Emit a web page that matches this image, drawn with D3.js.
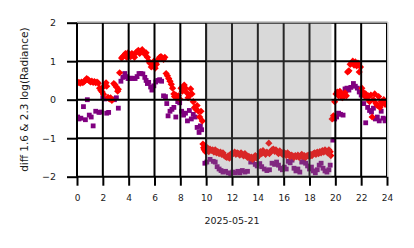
<!doctype html>
<html lang="en">
	<head>
		<meta charset="utf-8">
		<title>diff 1.6 & 2.3 log(Radiance)</title>
		<script src="https://d3js.org/d3.v7.min.js"></script>
		<style>
			body { margin: 0; background: #fff; }
			text { font-family: 'DejaVu Sans', sans-serif; fill: #1a1a1a; }
			.axis path { display: none; }
			.axis line { stroke: #000; stroke-width: 2; }
			.grid line { stroke: #000; stroke-width: 2; }
		</style>
	</head>
	<body>
		<div id="chart"></div>
		<script>
			// red diamonds: [hour, value]
			let redPts = [
				[0.05,0.44],[0.15,0.45],[0.25,0.43],[0.35,0.46],[0.45,0.44],[0.55,0.47],[0.65,0.5],[0.75,0.55],
				[0.85,0.52],[0.95,0.49],[1.05,0.46],[1.15,0.48],[1.25,0.45],[1.35,0.47],[1.45,0.44],[1.55,0.46],
				[1.65,0.43],[1.75,0.3],[1.85,0.24],[1.95,0.2],[2.0,0.32],[2.05,0.14],[2.15,0.38],[2.25,0.44],
				[2.3,0.35],[2.4,0.06],[2.5,0.02],[2.6,0.05],[2.7,-0.02],[2.85,0.42],[2.95,0.38],[3.05,0.33],
				[3.15,0.22],[3.2,0.27],[3.3,0.7],[3.45,1.08],[3.55,1.12],[3.65,1.15],[3.75,1.2],[3.85,1.1],
				[3.95,1.22],[4.05,1.18],[4.15,1.12],[4.25,1.2],[4.35,1.15],[4.45,1.1],[4.55,1.22],[4.65,1.25],
				[4.75,1.28],[4.85,1.2],[4.95,1.26],[5.05,1.3],[5.15,1.25],[5.25,1.18],[5.35,1.22],[5.45,1.1],
				[5.55,1.0],[5.65,0.95],[5.75,0.85],[5.85,0.9],[5.95,1.0],[6.05,0.82],[6.15,0.92],[6.3,1.05],
				[6.4,1.1],[6.5,1.12],[6.6,1.08],[6.7,1.05],[6.8,1.1],[6.9,0.68],[7.0,0.62],[7.1,0.55],
				[7.2,0.48],[7.3,0.4],[7.4,0.3],[7.5,0.15],[7.55,0.08],[7.65,0.12],[7.75,0.05],[7.85,0.1],
				[7.95,0.02],[8.05,0.3],[8.15,0.22],[8.3,0.38],[8.4,0.3],[8.5,0.18],[8.6,0.05],[8.7,0.12],
				[8.8,0.28],[8.9,0.15],[9.0,-0.05],[9.1,-0.2],[9.2,-0.25],[9.3,-0.15],[9.4,-0.3],[9.5,-0.45],
				[9.6,-0.3],[9.7,-0.55],[9.75,-1.15],[9.8,-1.25],[9.85,-1.3],[9.9,-1.2],[9.95,-1.35],
				[10.0,-1.3],[10.1,-1.25],[10.2,-1.35],[10.3,-1.28],[10.4,-1.32],[10.5,-1.3],[10.6,-1.36],[10.7,-1.3],
				[10.8,-1.38],[10.9,-1.35],[11.0,-1.4],[11.1,-1.36],[11.2,-1.42],[11.3,-1.38],[11.4,-1.45],[11.5,-1.48],
				[11.6,-1.5],[11.7,-1.46],[11.8,-1.52],[11.9,-1.44],[12.0,-1.38],[12.1,-1.4],[12.2,-1.36],[12.3,-1.42],
				[12.4,-1.38],[12.5,-1.4],[12.6,-1.44],[12.7,-1.38],[12.8,-1.42],[12.9,-1.46],[13.0,-1.4],[13.1,-1.45],
				[13.2,-1.5],[13.3,-1.47],[13.4,-1.52],[13.5,-1.49],[13.6,-1.55],[13.7,-1.5],[13.8,-1.45],[13.9,-1.52],
				[14.0,-1.48],[14.1,-1.42],[14.2,-1.35],[14.3,-1.4],[14.4,-1.32],[14.5,-1.38],[14.6,-1.42],[14.7,-1.36],
				[14.85,-1.13],[14.9,-1.4],[15.0,-1.35],[15.1,-1.3],[15.2,-1.28],[15.3,-1.34],[15.4,-1.3],[15.5,-1.36],
				[15.6,-1.4],[15.7,-1.33],[15.8,-1.38],[15.9,-1.42],[16.0,-1.36],[16.1,-1.4],[16.2,-1.45],[16.3,-1.38],
				[16.4,-1.42],[16.5,-1.48],[16.6,-1.44],[16.7,-1.46],[16.8,-1.5],[16.9,-1.45],[17.0,-1.48],[17.1,-1.44],
				[17.2,-1.5],[17.3,-1.46],[17.4,-1.42],[17.5,-1.48],[17.6,-1.45],[17.7,-1.5],[17.8,-1.46],[17.9,-1.44],
				[18.0,-1.48],[18.1,-1.42],[18.2,-1.45],[18.3,-1.4],[18.4,-1.38],[18.5,-1.42],[18.6,-1.36],[18.7,-1.4],
				[18.8,-1.35],[18.9,-1.38],[19.0,-1.32],[19.1,-1.36],[19.2,-1.3],[19.3,-1.34],[19.4,-1.38],[19.5,-1.3],
				[19.6,-1.35],[19.65,-1.45],
				[19.75,-0.5],[19.85,-0.42],[19.95,-0.05],[20.05,0.15],[20.15,0.2],[20.25,0.1],[20.35,0.22],[20.45,0.15],
				[20.55,0.05],[20.65,0.12],[20.75,0.18],[20.85,0.1],[20.95,0.72],[21.05,0.75],[21.15,0.92],[21.25,0.95],
				[21.35,1.0],[21.45,0.9],[21.55,0.98],[21.65,0.88],[21.75,0.95],[21.85,0.72],[21.95,0.85],[22.05,0.3],
				[22.15,0.2],[22.25,0.1],[22.35,0.15],[22.45,0.05],[22.55,0.1],[22.65,-0.05],[22.75,0.12],[22.85,-0.45],
				[22.95,0.0],[23.05,0.15],[23.15,-0.1],[23.25,-0.15],[23.35,0.08],[23.45,-0.2],[23.55,-0.05],[23.65,-0.1],
				[23.75,0.0],[23.85,-0.12],[23.95,-0.05]
			]

			// purple squares: [hour, value]
			let purplePts = [
				[0.05,-0.45],[0.15,-0.5],[0.3,-0.48],[0.5,-0.18],[0.65,-0.52],[0.8,0.0],[0.95,-0.4],[1.1,-0.45],
				[1.25,-0.68],[1.45,-0.3],[1.7,-0.33],[1.85,-0.32],[2.0,0.05],[2.15,0.02],[2.3,-0.35],[2.45,-0.33],
				[2.7,0.02],[2.9,0.0],[3.05,0.05],[3.2,-0.22],[3.4,0.48],[3.55,0.58],[3.7,0.68],[3.85,0.6],
				[3.95,0.55],[4.05,0.55],[4.2,0.56],[4.35,0.55],[4.5,0.55],[4.65,0.6],[4.8,0.68],[4.95,0.68],
				[5.1,0.67],[5.25,0.58],[5.35,0.5],[5.45,0.42],[5.55,0.45],[5.7,0.33],[5.8,0.25],[5.95,0.36],
				[6.1,0.46],[6.25,0.5],[6.4,0.52],[6.55,0.48],[6.7,0.1],[6.85,0.08],[6.95,-0.1],[7.05,-0.42],
				[7.2,-0.3],[7.35,-0.25],[7.5,-0.2],[7.65,-0.45],[7.8,-0.05],[7.95,-0.08],[8.1,-0.3],[8.25,-0.4],
				[8.4,-0.35],[8.55,-0.55],[8.7,-0.28],[8.85,-0.5],[9.0,-0.38],[9.15,-0.45],[9.3,-0.72],[9.45,-0.85],
				[9.55,-0.68],[9.65,-0.78],
				[9.9,-1.65],[10.05,-1.62],[10.3,-1.55],[10.55,-1.6],[10.7,-1.62],[10.85,-1.74],[11.0,-1.8],[11.15,-1.84],
				[11.3,-1.88],[11.5,-1.86],[11.7,-1.9],[11.9,-1.92],[12.05,-1.88],[12.25,-1.9],[12.45,-1.86],[12.6,-1.9],
				[12.8,-1.84],[13.0,-1.88],[13.2,-1.86],[13.45,-1.62],[13.6,-1.6],[13.8,-1.68],[13.95,-1.72],[14.15,-1.66],
				[14.3,-1.74],[14.5,-1.8],[14.7,-1.84],[14.9,-1.82],[15.1,-1.65],[15.3,-1.68],[15.45,-1.62],[15.6,-1.7],
				[15.75,-1.78],[15.9,-1.82],[16.05,-1.75],[16.2,-1.8],[16.35,-1.6],[16.5,-1.64],[16.65,-1.57],[16.8,-1.78],
				[16.95,-1.85],[17.1,-1.8],[17.25,-1.88],[17.4,-1.62],[17.55,-1.58],[17.7,-1.65],[17.85,-1.72],[18.0,-1.8],
				[18.15,-1.75],[18.3,-1.85],[18.45,-1.9],[18.6,-1.82],[18.75,-1.7],[18.9,-1.65],[19.05,-1.78],[19.2,-1.85],
				[19.35,-1.88],[19.5,-1.82],[19.6,-1.7],
				[19.8,-1.05],[19.95,-0.5],[20.1,-0.45],[20.25,-0.35],[20.4,-0.38],[20.6,-0.4],[20.75,0.28],[20.9,0.3],
				[21.05,0.25],[21.2,0.32],[21.4,0.42],[21.55,0.35],[21.7,0.3],[21.85,0.2],[22.0,0.12],[22.2,-0.1],
				[22.35,-0.6],[22.5,-0.2],[22.65,-0.28],[22.8,-0.32],[22.95,-0.22],[23.1,-0.5],[23.25,-0.45],[23.4,-0.55],
				[23.55,-0.3],[23.7,-0.48],[23.85,-0.55],[23.95,-0.5]
			]

			let nightSpan = [10, 19.7]
			let xTicks = [0, 2, 4, 6, 8, 10, 12, 14, 16, 18, 20, 22, 24]
			let yTicks = [-2, -1, 0, 1, 2]
			let dateLabel = '2025-05-21'
			let yLabel = 'diff 1.6 & 2.3  log(Radiance)'

			let width = 414
			let height = 248
			let margin = {top: 22.7, right: 27, bottom: 71.3, left: 77}
			let w = width - margin.left - margin.right
			let h = height - margin.top - margin.bottom

			let x = d3.scaleLinear().domain([0, 24]).range([0, w])
			let y = d3.scaleLinear().domain([-2, 2]).range([h, 0])

			let svg = d3.select('#chart')
				.append('svg')
				.attr('width', width)
				.attr('height', height)

			svg.append('defs').append('clipPath')
				.attr('id', 'clip')
				.append('rect')
				.attr('width', w)
				.attr('height', h)

			let g = svg.append('g')
				.attr('transform', `translate(${margin.left},${margin.top})`)

			let plot = g.append('g').attr('clip-path', 'url(#clip)')

			plot.append('g')
				.selectAll('rect')
				.data(purplePts)
				.enter().append('rect')
					.attr('x', d => x(d[0]) - 2.4)
					.attr('y', d => y(d[1]) - 2.4)
					.attr('width', 4.8)
					.attr('height', 4.8)
					.attr('fill', '#800080')

			plot.append('g')
				.selectAll('path')
				.data(redPts)
				.enter().append('path')
					.attr('transform', d => `translate(${x(d[0])},${y(d[1])})`)
					.attr('d', 'M0,-3.6L3.6,0L0,3.6L-3.6,0Z')
					.attr('fill', '#ff0000')

			// grid sits on top of the markers
			let grid = g.append('g').attr('class', 'grid')
			grid.selectAll('.vx')
				.data(xTicks)
				.enter().append('line')
					.attr('x1', d => x(d)).attr('x2', d => x(d))
					.attr('y1', 0).attr('y2', h)
			grid.selectAll('.hy')
				.data(yTicks)
				.enter().append('line')
					.attr('x1', 0).attr('x2', w)
					.attr('y1', d => y(d)).attr('y2', d => y(d))

			// night shading, drawn over everything with alpha
			g.append('rect')
				.attr('x', x(nightSpan[0]))
				.attr('y', 0)
				.attr('width', x(nightSpan[1]) - x(nightSpan[0]))
				.attr('height', h)
				.attr('fill', '#808080')
				.attr('fill-opacity', 0.3)

			g.append('g')
				.attr('class', 'axis')
				.attr('transform', `translate(0,${h})`)
				.call(d3.axisBottom(x).tickValues(xTicks).tickSize(9).tickPadding(9).tickFormat(d3.format('d')))
				.selectAll('text')
					.style('font-size', '9px')
					.style('font-family', 'DejaVu Sans')

			g.append('g')
				.attr('class', 'axis')
				.call(d3.axisLeft(y).tickValues(yTicks).tickSize(10).tickPadding(11).tickFormat(d3.format('d')))
				.selectAll('text')
					.style('font-size', '9.5px')
					.style('font-family', 'DejaVu Sans')

			// light top / right spines
			g.append('line')
				.attr('x1', 0).attr('x2', w + 0.8)
				.attr('y1', -0.6).attr('y2', -0.6)
				.attr('stroke', '#d0d0d0').attr('stroke-width', 1.5)
			g.append('line')
				.attr('x1', w + 0.8).attr('x2', w + 0.8)
				.attr('y1', -0.6).attr('y2', h)
				.attr('stroke', '#d0d0d0').attr('stroke-width', 1.5)

			svg.append('text')
				.attr('x', margin.left + w / 2)
				.attr('y', 224)
				.attr('text-anchor', 'middle')
				.style('font-size', '9.5px')
				.text(dateLabel)

			svg.append('text')
				.attr('transform', `translate(28,${margin.top + h / 2}) rotate(-90)`)
				.attr('text-anchor', 'middle')
				.style('font-size', '10.5px')
				.text(yLabel)
		</script>
	</body>
</html>
